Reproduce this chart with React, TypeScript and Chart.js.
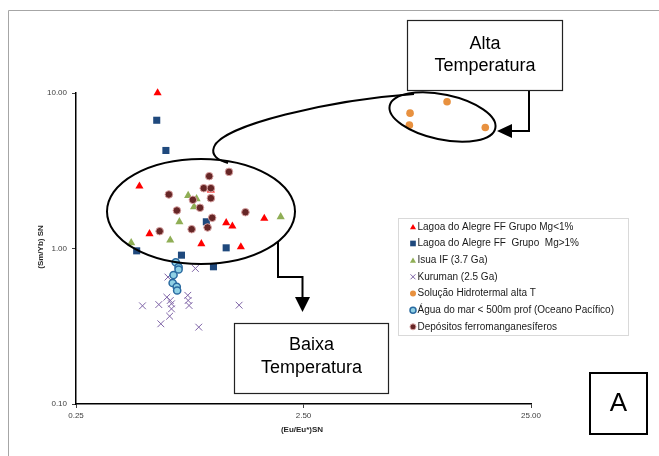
import React, { useEffect, useRef } from 'react';
import { Chart, registerables } from 'chart.js';

Chart.register(...registerables);

// ---------- Data ----------
const SERIES_LABELS = [
  'Lagoa do Alegre FF Grupo Mg<1%',
  'Lagoa do Alegre FF  Grupo  Mg>1%',
  'Isua IF (3.7 Ga)',
  'Kuruman (2.5 Ga)',
  'Solução Hidrotermal alta T',
  'Água do mar < 500m prof (Oceano Pacífico)',
  'Depósitos ferromanganesíferos',
];

const lagoaMgLt1X = [0.571, 0.475, 0.526, 0.889, 0.979, 1.143, 1.217, 1.326, 1.681];
const lagoaMgLt1Y = [10.0, 2.515, 1.243, 1.072, 2.371, 1.463, 1.391, 1.025, 1.56];

const lagoaMgGt1X = [0.566, 0.621, 0.935, 0.462, 0.727, 1.143, 1.005];
const lagoaMgGt1Y = [6.68, 4.27, 1.485, 0.966, 0.906, 1.01, 0.763];

const isuaX = [0.778, 0.847, 0.826, 0.712, 0.649, 0.437, 1.985];
const isuaY = [2.19, 2.087, 1.854, 1.485, 1.131, 1.088, 1.599];

const kurumanX = [0.49, 0.578, 0.59, 0.627, 0.649, 0.657, 0.657, 0.645, 0.634, 0.775, 0.778, 0.785, 0.837, 0.866, 1.303];
const kurumanY = [0.428, 0.436, 0.328, 0.486, 0.463, 0.441, 0.409, 0.367, 0.655, 0.5, 0.463, 0.43, 0.744, 0.312, 0.432];

const hidrotermalX = [7.35, 10.69, 7.3, 15.74];
const hidrotermalY = [7.42, 8.78, 6.21, 6.0];

const aguaMarX = [0.686, 0.706, 0.706, 0.671, 0.665, 0.693, 0.696];
const aguaMarY = [0.816, 0.76, 0.733, 0.675, 0.6, 0.567, 0.537];

const depositosX = [1.176, 0.963, 0.911, 0.979, 0.979, 0.64, 0.816, 0.877, 0.694, 1.389, 0.992, 0.947, 0.806, 0.583];
const depositosY = [3.11, 2.918, 2.443, 2.443, 2.107, 2.225, 2.056, 1.827, 1.756, 1.712, 1.576, 1.365, 1.331, 1.292];

const X_TICKS = [0.25, 2.5, 25];
const Y_TICKS = [0.1, 1, 10];
const X_TITLE = '(Eu/Eu*)SN';
const Y_TITLE = '(Sm/Yb) SN';
const ALTA_LINES = ['Alta', 'Temperatura'];
const BAIXA_LINES = ['Baixa', 'Temperatura'];
const PANEL_LABEL = 'A';

const FONT = '"Liberation Sans", Arial, sans-serif';

const pts = (xs: number[], ys: number[]) => xs.map((x, i) => ({ x, y: ys[i] }));

type MarkerStyle = {
  pointStyle: string;
  radius: number;
  bg: string;
  border: string;
  bw: number;
};

const STYLES: MarkerStyle[] = [
  { pointStyle: 'triangle', radius: 4.7, bg: '#FF0000', border: '#FF0000', bw: 0 },
  { pointStyle: 'rect', radius: 5, bg: '#1F497D', border: '#1F497D', bw: 0 },
  { pointStyle: 'triangle', radius: 4.7, bg: '#8FAE55', border: '#8FAE55', bw: 0 },
  { pointStyle: 'crossRot', radius: 4.8, bg: '#7E63A6', border: '#7E63A6', bw: 1 },
  { pointStyle: 'circle', radius: 3.8, bg: '#E8913F', border: '#E8913F', bw: 0 },
  { pointStyle: 'circle', radius: 3.6, bg: '#8FD0E4', border: '#2A6AA0', bw: 1.5 },
  { pointStyle: 'circle', radius: 3.8, bg: '#662626', border: '#D9A3A3', bw: 1 },
];

function drawMarker(ctx: CanvasRenderingContext2D, s: MarkerStyle, x: number, y: number, r: number) {
  ctx.save();
  ctx.fillStyle = s.bg;
  ctx.strokeStyle = s.border;
  ctx.lineWidth = s.bw || 1;
  ctx.beginPath();
  if (s.pointStyle === 'triangle') {
    ctx.moveTo(x, y - r);
    ctx.lineTo(x + r * 0.866, y + r * 0.5);
    ctx.lineTo(x - r * 0.866, y + r * 0.5);
    ctx.closePath();
    ctx.fill();
  } else if (s.pointStyle === 'rect') {
    const h = r * Math.SQRT1_2;
    ctx.rect(x - h, y - h, 2 * h, 2 * h);
    ctx.fill();
  } else if (s.pointStyle === 'crossRot') {
    const h = r * Math.SQRT1_2;
    ctx.moveTo(x - h, y - h);
    ctx.lineTo(x + h, y + h);
    ctx.moveTo(x - h, y + h);
    ctx.lineTo(x + h, y - h);
    ctx.stroke();
  } else {
    ctx.arc(x, y, r, 0, Math.PI * 2);
    ctx.fill();
    if (s.bw) ctx.stroke();
  }
  ctx.restore();
}

const annotationPlugin = {
  id: 'annotations',
  afterDraw(chart: any) {
    const ctx: CanvasRenderingContext2D = chart.ctx;
    ctx.save();

    // outer frame
    ctx.strokeStyle = '#A6A6A6';
    ctx.lineWidth = 1;
    ctx.beginPath();
    ctx.moveTo(8.5, 456);
    ctx.lineTo(8.5, 10.5);
    ctx.lineTo(659, 10.5);
    ctx.stroke();

    // axis titles
    ctx.fillStyle = '#262626';
    ctx.font = `bold 8px ${FONT}`;
    ctx.textAlign = 'center';
    ctx.textBaseline = 'middle';
    ctx.fillText(X_TITLE, 302, 430);
    ctx.save();
    ctx.translate(41, 247);
    ctx.rotate(-Math.PI / 2);
    ctx.fillText(Y_TITLE, 0, 0);
    ctx.restore();

    // ellipses and lasso
    ctx.strokeStyle = '#000';
    ctx.lineWidth = 2;
    ctx.beginPath();
    ctx.ellipse(201, 211.5, 94, 52.5, 0, 0, Math.PI * 2);
    ctx.stroke();
    ctx.beginPath();
    ctx.ellipse(442.5, 117, 54, 22.5, (12 * Math.PI) / 180, 0, Math.PI * 2);
    ctx.stroke();
    ctx.beginPath();
    ctx.moveTo(414, 94);
    ctx.bezierCurveTo(330, 100, 222, 125, 214, 147);
    ctx.bezierCurveTo(211, 155, 217, 160, 228, 163);
    ctx.stroke();

    // connectors
    ctx.beginPath();
    ctx.moveTo(529, 90);
    ctx.lineTo(529, 131);
    ctx.lineTo(510, 131);
    ctx.stroke();
    ctx.fillStyle = '#000';
    ctx.beginPath();
    ctx.moveTo(497, 131);
    ctx.lineTo(512, 124);
    ctx.lineTo(512, 138);
    ctx.closePath();
    ctx.fill();

    ctx.beginPath();
    ctx.moveTo(278, 241);
    ctx.lineTo(278, 277);
    ctx.lineTo(302.5, 277);
    ctx.lineTo(302.5, 299);
    ctx.stroke();
    ctx.beginPath();
    ctx.moveTo(302.5, 312);
    ctx.lineTo(295, 297);
    ctx.lineTo(310, 297);
    ctx.closePath();
    ctx.fill();

    // text boxes
    ctx.lineWidth = 1.2;
    ctx.strokeStyle = '#222';
    ctx.fillStyle = '#fff';
    ctx.fillRect(407.5, 20.5, 155, 70);
    ctx.strokeRect(407.5, 20.5, 155, 70);
    ctx.fillRect(234.5, 323.5, 154, 70);
    ctx.strokeRect(234.5, 323.5, 154, 70);
    ctx.lineWidth = 2;
    ctx.strokeStyle = '#000';
    ctx.strokeRect(590, 373, 57, 61);

    ctx.fillStyle = '#000';
    ctx.font = `18px ${FONT}`;
    ctx.textAlign = 'center';
    ctx.textBaseline = 'middle';
    ctx.fillText(ALTA_LINES[0], 485, 44);
    ctx.fillText(ALTA_LINES[1], 485, 66);
    ctx.fillText(BAIXA_LINES[0], 311.5, 345);
    ctx.fillText(BAIXA_LINES[1], 311.5, 368);
    ctx.font = `26px ${FONT}`;
    ctx.fillText(PANEL_LABEL, 618.5, 404);

    // legend
    ctx.fillStyle = '#fff';
    ctx.fillRect(398.5, 218.5, 230, 117);
    ctx.strokeStyle = '#D9D9D9';
    ctx.lineWidth = 1;
    ctx.strokeRect(398.5, 218.5, 230, 117);
    ctx.font = `10px ${FONT}`;
    ctx.textAlign = 'left';
    ctx.textBaseline = 'middle';
    chart.data.datasets.forEach((ds: any, i: number) => {
      const y = 226.8 + i * 16.67;
      const s = STYLES[i];
      const r = s.pointStyle === 'rect' ? 4 : s.pointStyle === 'circle' ? 3 : 3.5;
      drawMarker(ctx, s, 413, y + (s.pointStyle === 'triangle' ? 0.8 : 0), r);
      ctx.fillStyle = '#1a1a1a';
      ctx.fillText(ds.label, 417.5, y);
    });

    ctx.restore();
  },
};

export default function App() {
  const canvasRef = useRef<HTMLCanvasElement | null>(null);

  useEffect(() => {
    if (!canvasRef.current) return;
    const series = [
      pts(lagoaMgLt1X, lagoaMgLt1Y),
      pts(lagoaMgGt1X, lagoaMgGt1Y),
      pts(isuaX, isuaY),
      pts(kurumanX, kurumanY),
      pts(hidrotermalX, hidrotermalY),
      pts(aguaMarX, aguaMarY),
      pts(depositosX, depositosY),
    ];
    const datasets = series.map((data, i) => ({
      label: SERIES_LABELS[i],
      data,
      pointStyle: STYLES[i].pointStyle,
      pointRadius: STYLES[i].radius,
      pointBackgroundColor: STYLES[i].bg,
      pointBorderColor: STYLES[i].border,
      pointBorderWidth: STYLES[i].bw,
      backgroundColor: STYLES[i].bg,
      borderColor: STYLES[i].border,
      showLine: false,
      clip: false as any,
      order: 10 - i,
    }));

    const tickFont = { size: 8, family: FONT };
    const chart = new Chart(canvasRef.current, {
      type: 'scatter',
      data: { datasets },
      options: {
        responsive: false,
        animation: false,
        events: [],
        layout: { padding: { top: 93, right: 128, bottom: 0, left: 0 } },
        plugins: { legend: { display: false }, tooltip: { enabled: false } },
        scales: {
          x: {
            type: 'logarithmic',
            min: 0.25,
            max: 25,
            afterBuildTicks: (s: any) => {
              s.ticks = X_TICKS.map((v) => ({ value: v }));
            },
            afterFit: (s: any) => {
              s.height = 52;
            },
            ticks: {
              callback: (v: any) => Number(v).toFixed(2),
              font: tickFont,
              color: '#404040',
              padding: 3,
              autoSkip: false,
              maxRotation: 0,
            },
            grid: { display: true, drawOnChartArea: false, drawTicks: true, tickLength: 4, color: '#404040' },
            border: { display: true, color: '#000', width: 1.5 },
          },
          y: {
            type: 'logarithmic',
            min: 0.1,
            max: 10,
            afterBuildTicks: (s: any) => {
              s.ticks = Y_TICKS.map((v) => ({ value: v }));
            },
            afterFit: (s: any) => {
              s.width = 76;
            },
            ticks: {
              callback: (v: any) => Number(v).toFixed(2),
              font: tickFont,
              color: '#404040',
              padding: 5,
              autoSkip: false,
            },
            grid: { display: true, drawOnChartArea: false, drawTicks: true, tickLength: 4, color: '#404040' },
            border: { display: true, color: '#000', width: 1.5 },
          },
        },
      },
      plugins: [annotationPlugin],
    } as any);
    return () => chart.destroy();
  }, []);

  return (
    <div style={{ position: 'absolute', left: 0, top: 0, width: 659, height: 456, background: '#fff' }}>
      <canvas ref={canvasRef} width={659} height={456} style={{ display: 'block' }} />
    </div>
  );
}
